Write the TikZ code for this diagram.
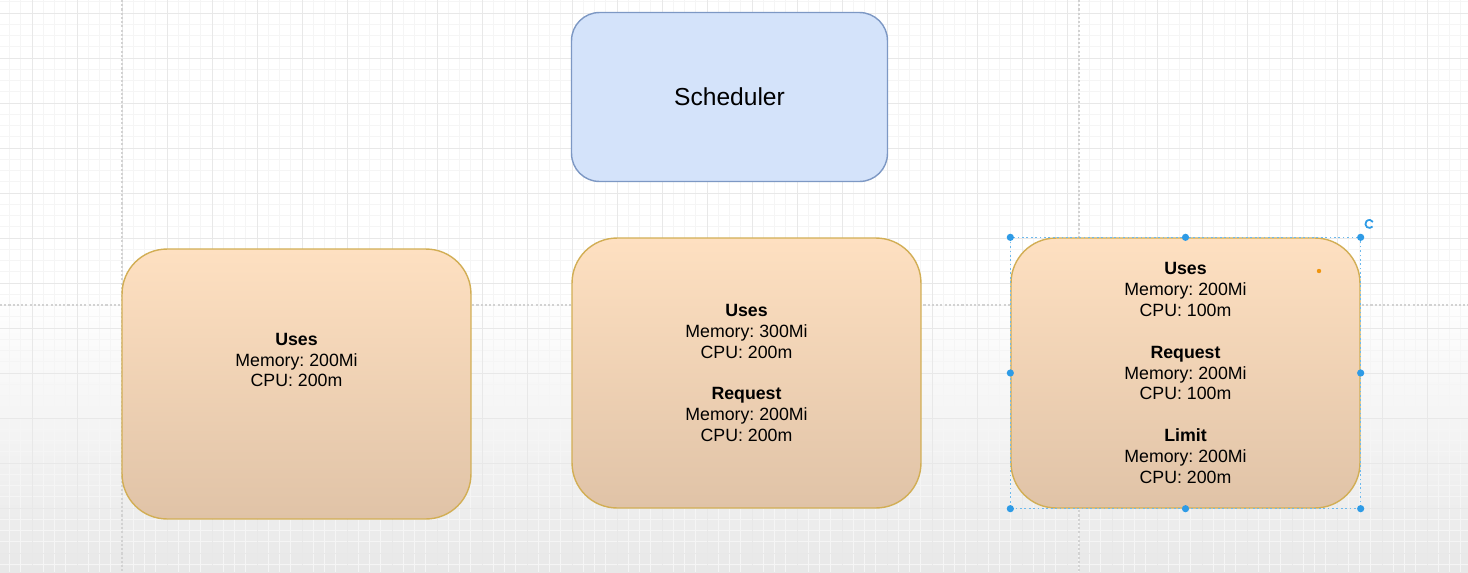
\documentclass[tikz,border=0pt]{standalone}
\usepackage{fontspec}
\setmainfont{Liberation Sans}
\frenchspacing

\definecolor{gridminor}{HTML}{F5F5F5}
\definecolor{gridmajor}{HTML}{E8E8E8}
\definecolor{pagebreak}{HTML}{D2D2D2}
\definecolor{canvasgray}{HTML}{E8E8E8}
\definecolor{schedfill}{HTML}{D4E3FA}
\definecolor{schedline}{HTML}{7D98C4}
\definecolor{podtop}{HTML}{FEE0C1}
\definecolor{podbottom}{HTML}{E0C3A7}
\definecolor{podline}{HTML}{D2AE55}
\definecolor{selblue}{HTML}{2E9BE6}
\definecolor{handleorange}{HTML}{F0950E}

\begin{document}
\begin{tikzpicture}[x=0.02cm,y=-0.02cm]
		\useasboundingbox (0,0) rectangle (1468,572);
		
		% canvas with grid
		\fill[white] (0,0) rectangle (1468,300);
		\shade[top color=white,bottom color=canvasgray] (0,290) rectangle (1468,572);
		\foreach \x in {9.5,20.75,...,1468} \draw[gridminor,line width=0.35pt] (\x,0) -- (\x,572);
		\foreach \y in {1.75,13,...,572} \draw[gridminor,line width=0.35pt] (0,\y) -- (1468,\y);
		\foreach \x in {32,77,...,1468} \draw[gridmajor,line width=0.45pt] (\x,0) -- (\x,572);
		\foreach \y in {13,58,...,572} \draw[gridmajor,line width=0.45pt] (0,\y) -- (1468,\y);
		\tikzstyle{pageline} = [pagebreak,line width=0.6pt,dash pattern=on 1.2pt off 1.2pt]
		\draw[pageline] (122,0) -- (122,572);
		\draw[pageline] (1079,0) -- (1079,572);
		\draw[pageline] (0,305) -- (1468,305);
		
		\node[draw=schedline,fill=schedfill,line width=0.8pt,rounded corners=0.56cm,
			minimum width=6.32cm,minimum height=3.38cm,font=\fontsize{14}{17}\selectfont]
			(S) at (729.5,97) {Scheduler};
		
		\begin{scope}[every node/.style={rectangle,draw=podline,line width=0.8pt,
				top color=podtop,bottom color=podbottom,rounded corners=0.9cm,align=center,
				minimum width=6.98cm,minimum height=5.4cm,text=black,
				font=\fontsize{10.1}{11.9}\selectfont}]
			\node (P1) at (296.5,384) {\textbf{Uses}\\Memory: 200Mi\\CPU: 200m\\[11.9pt]\strut};
			\node (P2) at (746.5,373) {\textbf{Uses}\\Memory: 300Mi\\CPU: 200m\\[11.9pt]
				\textbf{Request}\\Memory: 200Mi\\CPU: 200m};
			\node (P3) at (1185.5,373) {\textbf{Uses}\\Memory: 200Mi\\CPU: 100m\\[11.9pt]
				\textbf{Request}\\Memory: 200Mi\\CPU: 100m\\[11.9pt]
				\textbf{Limit}\\Memory: 200Mi\\CPU: 200m};
		\end{scope}
		
		% selection handles on P3
		\tikzstyle{selbox} = [selblue!70,line width=0.7pt,dash pattern=on 1pt off 1.5pt]
		\draw[selbox] (P3.north west) rectangle (P3.south east);
		\foreach \a in {north west,north,north east,east,south east,south,south west,west}
			\fill[selblue] (P3.\a) circle (3.6);
		\draw[selblue,line width=1pt] (1372.5,226.5) arc (40:330:4);
		\fill[handleorange] (1319,271) circle (2.2);
		
	\end{tikzpicture}
\end{document}
